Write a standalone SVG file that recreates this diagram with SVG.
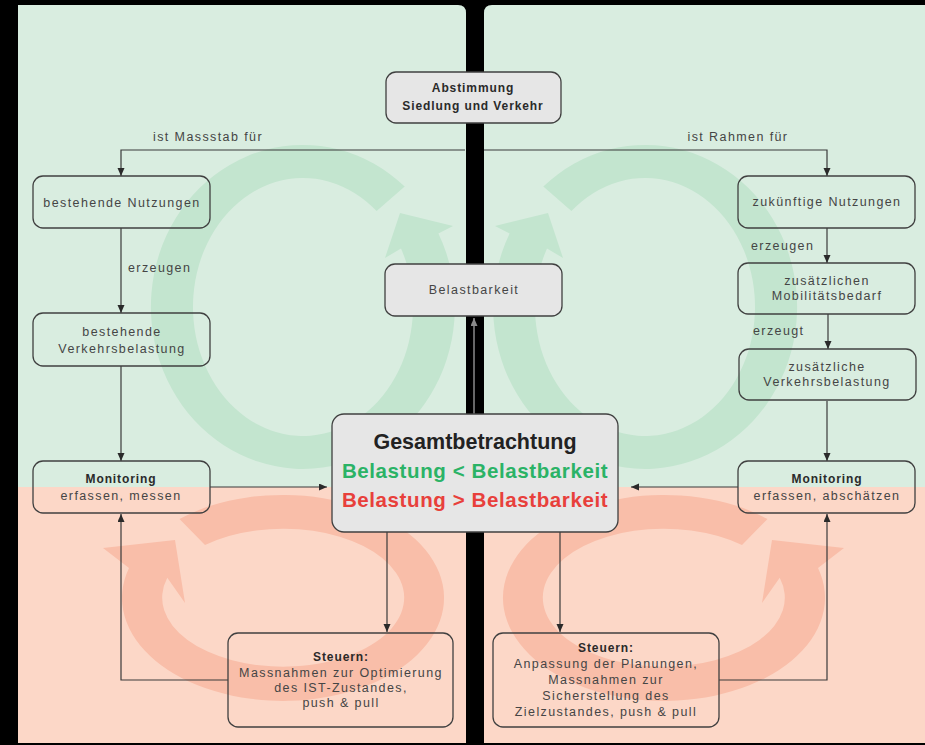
<svg xmlns="http://www.w3.org/2000/svg" width="925" height="745" viewBox="0 0 925 745">
<defs>
<style>
.t{font-family:"Liberation Sans",Arial,sans-serif;font-size:12.5px;letter-spacing:1.4px;fill:#454545;text-anchor:middle}
.tl{text-anchor:start}
.b{font-family:"Liberation Sans",Arial,sans-serif;font-size:12px;font-weight:bold;letter-spacing:0.9px;fill:#2a2a2a;text-anchor:middle}
.bx{fill:none;stroke:#404040;stroke-width:1.3}
.gx{fill:#e6e6e6;stroke:#404040;stroke-width:1.3}
.c{fill:none;stroke:#3a3a3a;stroke-width:1.2;marker-end:url(#ah)}
.big{font-family:"Liberation Sans",Arial,sans-serif;font-weight:bold;text-anchor:middle}
.gr{fill:#c3e5cf}
.pk{fill:#f9bea9}
</style>
<marker id="ah" markerUnits="userSpaceOnUse" markerWidth="9" markerHeight="8" refX="8" refY="3.5" orient="auto">
<path d="M0,0 L8,3.5 L0,7 z" fill="#2a2a2a"/>
</marker>
<marker id="ahg" markerUnits="userSpaceOnUse" markerWidth="9" markerHeight="8" refX="8" refY="3.5" orient="auto">
<path d="M0,0 L8,3.5 L0,7 z" fill="#8a8a8a"/>
</marker>
</defs>
<rect x="0" y="0" width="925" height="745" fill="#000"/>
<g id="panels">
<path d="M18,5 H458 Q466,5 466,13 V487 H18 Z" fill="#d9ede0"/>
<rect x="18" y="487" width="448" height="256" fill="#fcd7c7"/>
<path d="M484,13 Q484,5 492,5 H925 V487 H484 Z" fill="#d9ede0"/>
<rect x="484" y="487" width="441" height="256" fill="#fcd7c7"/>
</g>
<g id="cycles">
<path id="ringG" class="gr" d="M404.7,186.6 A152,162 0 1 0 438.4,233.5 L453,226 L400,213 L385,258 L401,248.4 A110,129 0 1 1 376.6,211.1 Z"/>
<path class="gr" transform="translate(948,0) scale(-1,1)" d="M404.7,186.6 A152,162 0 1 0 438.4,233.5 L453,226 L400,213 L385,258 L401,248.4 A110,129 0 1 1 376.6,211.1 Z"/>
<path id="ringP" class="pk" d="M179.5,519 A161,103 0 1 1 129,567.9 L103,548 L175,540 L185,603 L167.3,577.8 A121,69 0 1 0 205,545 Z"/>
<path class="pk" transform="translate(947,0) scale(-1,1)" d="M179.5,519 A161,103 0 1 1 129,567.9 L103,548 L175,540 L185,603 L167.3,577.8 A121,69 0 1 0 205,545 Z"/>
</g>
<g id="connectors">
<path class="c" d="M465,150 H121 V176"/>
<path class="c" d="M484,150 H827 V176"/>
<path class="c" d="M121,228 V313"/>
<path class="c" d="M121,366 V461"/>
<path class="c" d="M210,487 H327"/>
<path class="c" d="M387,532 V632"/>
<path class="c" d="M228,680 H121 V514"/>
<path class="c" d="M827,228 V263"/>
<path class="c" d="M828,314 V349"/>
<path class="c" d="M827,401 V461"/>
<path class="c" d="M738,487 H631"/>
<path class="c" d="M560,532 V632"/>
<path class="c" d="M719,680 H827 V514"/>
<path d="M474,414 V318" fill="none" stroke="#8a8a8a" stroke-width="1.5" marker-end="url(#ahg)"/>
<text class="t" x="208" y="141">ist Massstab für</text>
<text class="t" x="738" y="141">ist Rahmen für</text>
<text class="t tl" x="128" y="272">erzeugen</text>
<text class="t tl" x="751" y="250">erzeugen</text>
<text class="t tl" x="753" y="335">erzeugt</text>
</g>
<g id="abstimmung">
<rect class="gx" x="386" y="72" width="175" height="51" rx="10"/>
<text class="b" x="473" y="92">Abstimmung</text>
<text class="b" x="473" y="110">Siedlung und Verkehr</text>
</g>
<g id="belastbarkeit">
<rect class="gx" x="385" y="264" width="177" height="52" rx="10"/>
<text class="t" x="474" y="294">Belastbarkeit</text>
</g>
<g id="bestehende-nutzungen">
<rect class="bx" x="33" y="176" width="177" height="52" rx="10"/>
<text class="t" x="122" y="207">bestehende Nutzungen</text>
</g>
<g id="bestehende-verkehrsbelastung">
<rect class="bx" x="33" y="313" width="177" height="53" rx="10"/>
<text class="t" x="122" y="336">bestehende</text>
<text class="t" x="122" y="353">Verkehrsbelastung</text>
</g>
<g id="monitoring-links">
<rect class="bx" x="33" y="461" width="177" height="52" rx="10"/>
<text class="b" x="121" y="483">Monitoring</text>
<text class="t" x="121" y="500">erfassen, messen</text>
</g>
<g id="gesamtbetrachtung">
<rect class="gx" x="332" y="414" width="286" height="118" rx="12"/>
<text class="big" x="475" y="449" font-size="21.5" fill="#222">Gesamtbetrachtung</text>
<text class="big" x="475" y="478" font-size="20.5" letter-spacing="0.6" fill="#2bb366">Belastung &lt; Belastbarkeit</text>
<text class="big" x="475" y="507" font-size="20.5" letter-spacing="0.6" fill="#e8403b">Belastung &gt; Belastbarkeit</text>
</g>
<g id="steuern-links">
<rect class="bx" x="228" y="633" width="225" height="94" rx="10"/>
<text class="b" x="341" y="661">Steuern:</text>
<text class="t" x="341" y="677">Massnahmen zur Optimierung</text>
<text class="t" x="341" y="692">des IST-Zustandes,</text>
<text class="t" x="341" y="707">push &amp; pull</text>
</g>
<g id="zukuenftige-nutzungen">
<rect class="bx" x="738" y="176" width="177" height="52" rx="10"/>
<text class="t" x="827" y="206">zukünftige Nutzungen</text>
</g>
<g id="zusaetzlicher-mobilitaetsbedarf">
<rect class="bx" x="738" y="263" width="177" height="51" rx="10"/>
<text class="t" x="827" y="285">zusätzlichen</text>
<text class="t" x="827" y="300">Mobilitätsbedarf</text>
</g>
<g id="zusaetzliche-verkehrsbelastung">
<rect class="bx" x="739" y="349" width="177" height="51" rx="10"/>
<text class="t" x="827" y="371">zusätzliche</text>
<text class="t" x="827" y="386">Verkehrsbelastung</text>
</g>
<g id="monitoring-rechts">
<rect class="bx" x="738" y="461" width="177" height="52" rx="10"/>
<text class="b" x="827" y="483">Monitoring</text>
<text class="t" x="827" y="500">erfassen, abschätzen</text>
</g>
<g id="steuern-rechts">
<rect class="bx" x="493" y="633" width="226" height="94" rx="10"/>
<text class="b" x="606" y="652">Steuern:</text>
<text class="t" x="606" y="668">Anpassung der Planungen,</text>
<text class="t" x="606" y="684">Massnahmen zur</text>
<text class="t" x="606" y="700">Sicherstellung des</text>
<text class="t" x="606" y="716">Zielzustandes, push &amp; pull</text>
</g>
</svg>
